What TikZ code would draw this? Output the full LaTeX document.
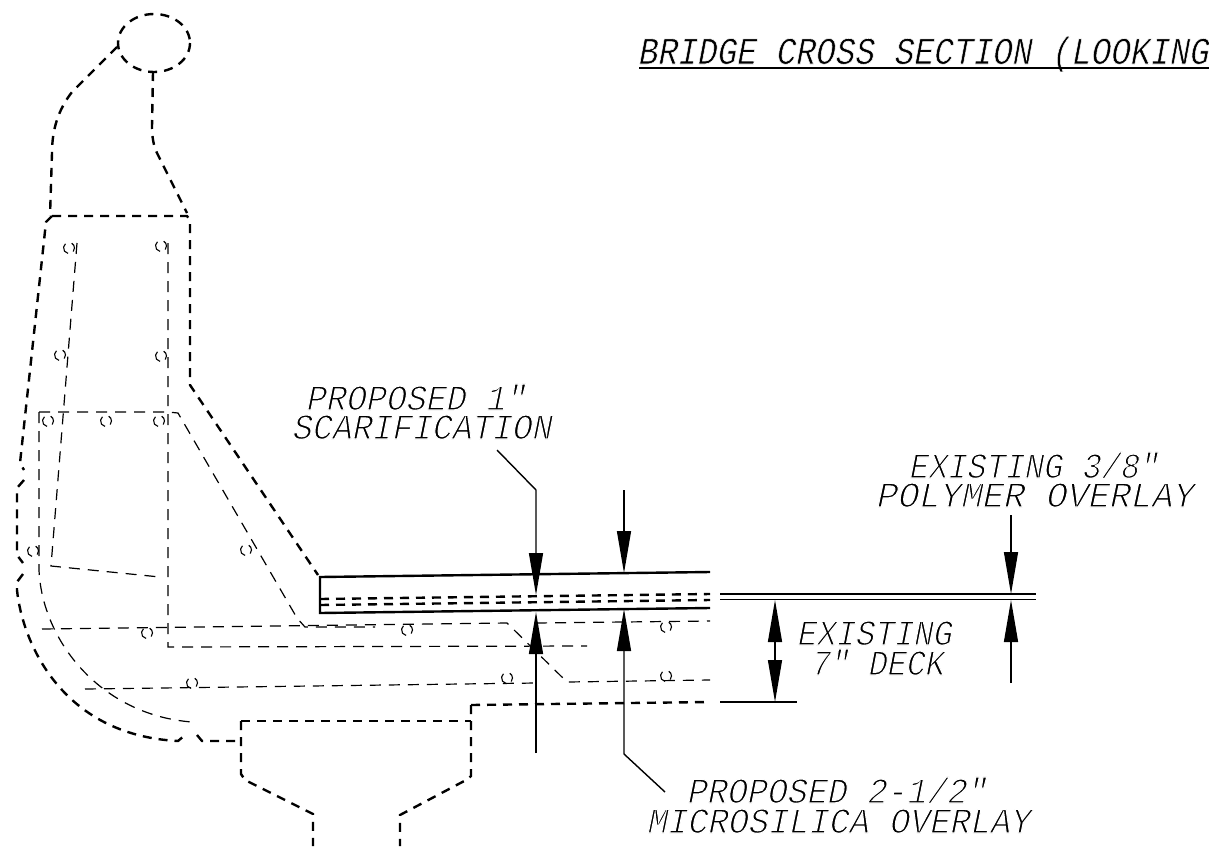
\documentclass[tikz,border=0pt]{standalone}
\usepackage{fontspec}
\usetikzlibrary{arrows.meta}
\newfontfamily\cadfont[FakeSlant=0.22]{Liberation Mono}
\newcommand{\cadthin}{\special{pdf:code 2 Tr 1.05 w 1 1 1 RG}}
\newcommand{\cadmed}{\special{pdf:code 2 Tr 0.5 w 1 1 1 RG}}
\tikzset{
  heavy/.style={line width=2.4pt,dash pattern=on 9pt off 7pt},
  thin/.style={line width=1.2pt,dash pattern=on 11pt off 8pt},
  solidheavy/.style={line width=2.4pt},
  solidthin/.style={line width=1.4pt},
  tip/.style={-{Triangle[length=42pt,width=14pt]}},
  cadlabel/.style={anchor=base west,inner sep=0pt,font=\cadfont\fontsize{33.3}{34}\selectfont,transform shape,yscale=1.08},
  titlelabel/.style={anchor=base west,inner sep=0pt,font=\cadfont\fontsize{33.3}{34}\selectfont,transform shape,xscale=0.985,yscale=1.15},
  hookmark/.style={line width=1.1pt}
}
\begin{document}
\begin{tikzpicture}[x=1pt,y=-1pt]
\useasboundingbox (0,0) rectangle (1209,846);
\clip (0,0) rectangle (1209,846);
% parapet outline
\draw[heavy] (154,43) ellipse [x radius=36,y radius=29];
\draw[heavy] (117,47) -- (72,92) .. controls (58,110) and (52,130) .. (52,153) -- (50,216);
\draw[heavy] (153,72) -- (152,127) .. controls (152,138) and (154,147) .. (157,153) -- (187,213);
\draw[heavy] (52,216) -- (187,216) -- (190,220) -- (190,385) -- (318,575);
\draw[heavy] (52,216) -- (46,222) -- (20,463) -- (24,470);
\draw[heavy] (24,480) -- (17,488) -- (17,555) -- (23,563);
\draw[heavy] (23,574) -- (17,582) -- (17,590) .. controls (22,640) and (60,735) .. (178,741) -- (185,735);
\draw[heavy] (197,735) -- (202,741) -- (241,741);
\draw[heavy] (241,721) -- (241,774) -- (245,780) -- (313,814) -- (313,846);
\draw[heavy] (241,721) -- (471,721);
\draw[heavy] (471,705) -- (471,776) -- (468,779) -- (400,815) -- (400,846);
\draw[heavy] (471,705) -- (710,702);
% deck
\draw[solidheavy] (710,572) -- (320,577) -- (320,613) -- (710,608);
\draw[heavy] (320,599) -- (710,594);
\draw[heavy] (320,605) -- (710,600);
% reinforcement
\draw[thin] (77,243) -- (51,566) -- (160,577);
\draw[thin] (168,243) -- (168,647) -- (587,646);
\draw[thin] (39,412) -- (168,412) -- (178,413) -- (297,618) -- (305,627) -- (375,627);
\draw[thin] (39,412) -- (39,570) .. controls (42,640) and (100,715) .. (192,722);
\draw[thin] (42,629) -- (507,623) -- (567,682) -- (710,680);
\draw[thin] (536,623) -- (710,621);
\draw[thin] (85,689) -- (536,683);
\foreach \hx/\hy in {69/248,161/246,60/355,161/356,48/421,106/421,159/421,33/551,246/550,147/633,192/683,407/630,507/678,666/627,666/676}{
  \draw[hookmark] (\hx,\hy) ++(100:5.5) arc[start angle=100,end angle=230,radius=5.5];
  \draw[hookmark] (\hx,\hy) ++(300:5.5) arc[start angle=300,end angle=400,radius=5.5];
}
% extension lines
\coordinate (extA) at (720,594);
\coordinate (extAe) at (1036,594);
\coordinate (extB) at (720,599.5);
\coordinate (extBe) at (1036,599.5);
\coordinate (extC) at (720,702);
\coordinate (extCe) at (797,702);
\draw[solidthin] (extA) -- (extAe);
\draw[solidthin] (extB) -- (extBe);
\draw[solidthin] (extC) -- (extCe);
% dimension arrows
\coordinate (dimT) at (775,600);
\coordinate (dimB) at (775,702);
\coordinate (dimM) at (775,650);
\draw[solidthin,tip] (dimM) -- (dimT);
\draw[solidthin,tip] (dimM) -- (dimB);
% scarification leaders
\coordinate (sA) at (497,450);
\coordinate (sB) at (536,490);
\coordinate (sC) at (536,595);
\coordinate (sD) at (536,753);
\coordinate (sE) at (536,612);
\draw[solidthin,tip] (sA) -- (sB) -- (sC);
\draw[solidthin,tip] (sD) -- (sE);
% overlay leaders
\coordinate (mA) at (624,490);
\coordinate (mB) at (624,573);
\coordinate (mC) at (665,792);
\coordinate (mD) at (624,754);
\coordinate (mE) at (624,609);
\draw[solidthin,tip] (mA) -- (mB);
\draw[solidthin,tip] (mC) -- (mD) -- (mE);
% polymer leaders
\coordinate (pA) at (1011,515);
\coordinate (pB) at (1011,594);
\coordinate (pC) at (1011,683);
\coordinate (pD) at (1011,600);
\draw[solidthin,tip] (pA) -- (pB);
\draw[solidthin,tip] (pC) -- (pD);
% text
\node[titlelabel] (title) at (637,64) {\cadmed BRIDGE CROSS SECTION (LOOKING};
\coordinate (tU) at (639,68);
\coordinate (tV) at (1209,68);
\draw[solidheavy] (tU) -- (tV);
\node[cadlabel] (t1a) at (305,410) {\cadthin PROPOSED 1"};
\node[cadlabel] (t1b) at (291,439) {\cadthin SCARIFICATION};
\node[cadlabel,xscale=0.96] (t2a) at (908,478) {\cadthin EXISTING 3/8"};
\node[cadlabel,xscale=1.06] (t2b) at (875,507) {\cadthin POLYMER OVERLAY};
\node[cadlabel,xscale=0.97] (t3a) at (796,645) {\cadthin EXISTING};
\node[cadlabel,xscale=0.95] (t3b) at (810,675) {\cadthin 7" DECK};
\node[cadlabel] (t4a) at (686,803) {\cadthin PROPOSED 2-1/2"};
\node[cadlabel,xscale=1.01] (t4b) at (646,833) {\cadthin MICROSILICA OVERLAY};
\end{tikzpicture}
\end{document}
